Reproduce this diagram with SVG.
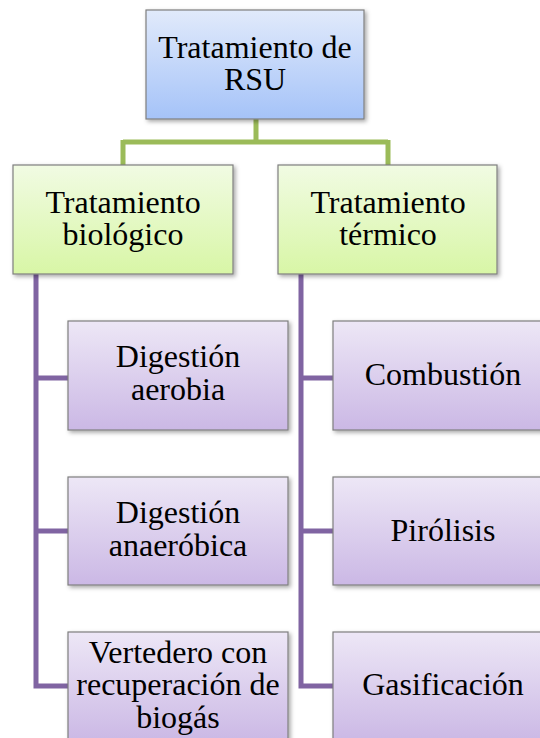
<svg xmlns="http://www.w3.org/2000/svg" width="540" height="738" viewBox="0 0 540 738">
<style>
text{font-family:"Liberation Serif","Times New Roman",serif;font-size:32px;fill:#000;text-anchor:middle}
.box{stroke:#7f7f7f;stroke-width:1.2}
.g{fill:none;stroke:#9bbb59;stroke-width:5}
.p{fill:none;stroke:#8064a2;stroke-width:5}
</style>
<defs>
<linearGradient id="gb" x1="0" y1="0" x2="0" y2="1"><stop offset="0" stop-color="#e1eafb"/><stop offset="1" stop-color="#a5c3f8"/></linearGradient>
<linearGradient id="gg" x1="0" y1="0" x2="0" y2="1"><stop offset="0" stop-color="#f1fbe3"/><stop offset="1" stop-color="#d8f6a6"/></linearGradient>
<linearGradient id="gp" x1="0" y1="0" x2="0" y2="1"><stop offset="0" stop-color="#ede7f6"/><stop offset="1" stop-color="#cbb8e5"/></linearGradient>
<filter id="sh" x="-10%" y="-10%" width="130%" height="130%"><feDropShadow dx="2" dy="2" stdDeviation="2" flood-color="#000" flood-opacity="0.35"/></filter>
</defs>
<g id="connectors">
<path class="g" d="M256 119V142M123 142H388M123 140V165M388 140V165"/>
<path class="p" d="M36 274V686H68M36 378H68M36 531H68"/>
<path class="p" d="M301 274V686H333M301 378H333M301 531H333"/>
</g>
<g id="root"><rect class="box" x="146" y="10" width="218" height="109" fill="url(#gb)" filter="url(#sh)"/><text x="255" y="58">Tratamiento de</text><text x="255" y="90">RSU</text></g>
<g id="biologico"><rect class="box" x="13" y="165" width="220" height="109" fill="url(#gg)" filter="url(#sh)"/><text x="123" y="213">Tratamiento</text><text x="123" y="245">biológico</text></g>
<g id="termico"><rect class="box" x="278" y="165" width="219" height="109" fill="url(#gg)" filter="url(#sh)"/><text x="388" y="213">Tratamiento</text><text x="388" y="245">térmico</text></g>
<g id="aerobia"><rect class="box" x="68" y="321" width="220" height="109" fill="url(#gp)" filter="url(#sh)"/><text x="178" y="367">Digestión</text><text x="178" y="400">aerobia</text></g>
<g id="anaerobica"><rect class="box" x="68" y="477" width="220" height="108" fill="url(#gp)" filter="url(#sh)"/><text x="178" y="523">Digestión</text><text x="178" y="556">anaeróbica</text></g>
<g id="vertedero"><rect class="box" x="68" y="632" width="220" height="110" fill="url(#gp)" filter="url(#sh)"/><text x="178" y="663">Vertedero con</text><text x="178" y="695">recuperación de</text><text x="178" y="728">biogás</text></g>
<g id="combustion"><rect class="box" x="333" y="321" width="220" height="109" fill="url(#gp)" filter="url(#sh)"/><text x="443" y="385">Combustión</text></g>
<g id="pirolisis"><rect class="box" x="333" y="477" width="220" height="108" fill="url(#gp)" filter="url(#sh)"/><text x="443" y="541">Pirólisis</text></g>
<g id="gasificacion"><rect class="box" x="333" y="632" width="220" height="110" fill="url(#gp)" filter="url(#sh)"/><text x="443" y="695">Gasificación</text></g>
</svg>
